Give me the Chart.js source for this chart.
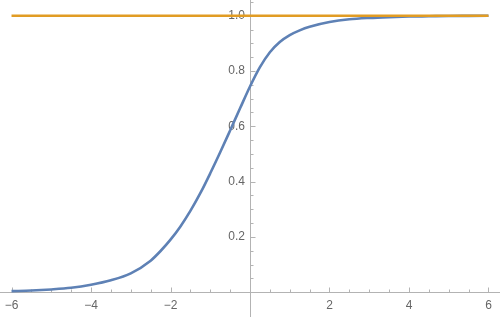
<!DOCTYPE html>
<html>
<head>
<meta charset="utf-8">
<script src="https://cdn.jsdelivr.net/npm/chart.js@4"></script>
<style>
  html, body { margin: 0; padding: 0; background: #fff; }
  #wrap { width: 500px; height: 317px; }
</style>
</head>
<body>
<div id="wrap"><canvas id="curveChart"></canvas></div>
<script>
// valores
const xValues = [-6, -5.5, -5, -4.5, -4, -3.5, -3, -2.5, -2.25, -2, -1.75, -1.5, -1.25, -1, -0.75, -0.5, -0.25,
  0, 0.25, 0.5, 0.75, 1, 1.25, 1.5, 2, 2.5, 3, 3.5, 4, 4.5, 5, 5.5, 6];
const curveValues = [0.004, 0.006, 0.01, 0.016, 0.027, 0.043, 0.068, 0.114, 0.149, 0.19, 0.238, 0.294, 0.358, 0.43, 0.506, 0.585, 0.665,
  0.744, 0.814, 0.868, 0.905, 0.93, 0.947, 0.96, 0.977, 0.987, 0.992, 0.995, 0.997, 0.998, 0.999, 0.9995, 1.0];
const flatX = [-6, 6];
const flatValues = [1, 1];

const xTicks = [-6, -4, -2, 2, 4, 6];
const yTicks = [0.2, 0.4, 0.6, 0.8, 1.0];
const xMinor = [];
for (let v = -6; v <= 6; v += 0.5) { if (v !== 0) xMinor.push(v); }
const yMinor = [];
for (let i = 1; i <= 21; i++) yMinor.push(i * 0.05);

const axisColor = '#b3b3b3';
const labelColor = '#666666';

// desenha as marcas pequenas dos eixos para dentro, como no original
const tickPlugin = {
  id: 'innerTicks',
  beforeDatasetsDraw(chart) {
    const ctx = chart.ctx;
    const xs = chart.scales.x;
    const ys = chart.scales.y;
    const x0 = Math.round(xs.getPixelForValue(0)) + 0.5;
    const y0 = Math.round(ys.getPixelForValue(0)) + 0.5;
    ctx.save();
    ctx.strokeStyle = axisColor;
    ctx.lineWidth = 1;
    ctx.beginPath();
    xMinor.forEach(v => {
      const px = Math.round(xs.getPixelForValue(v)) + 0.5;
      const len = xTicks.includes(v) ? 5 : 3;
      ctx.moveTo(px, y0);
      ctx.lineTo(px, y0 - len);
    });
    yMinor.forEach(v => {
      const py = Math.round(ys.getPixelForValue(v)) + 0.5;
      const major = Math.abs(Math.round(v * 5) - v * 5) < 1e-6;
      const len = major ? 5 : 3;
      ctx.moveTo(x0, py);
      ctx.lineTo(x0 + len, py);
    });
    ctx.stroke();
    ctx.restore();
  }
};

function noPadding(scale) {
  scale.paddingTop = 0;
  scale.paddingBottom = 0;
  scale.paddingLeft = 0;
  scale.paddingRight = 0;
}

const ctx = document.getElementById('curveChart').getContext('2d');
const chart = new Chart(ctx, {
  type: 'line',
  data: {
    datasets: [
      {
        label: 'flat',
        data: flatX.map((x, i) => ({ x: x, y: flatValues[i] })),
        borderColor: '#E19C24',
        borderWidth: 2.6,
        pointRadius: 0,
        fill: false,
      },
      {
        label: 'curve',
        data: xValues.map((x, i) => ({ x: x, y: curveValues[i] })),
        borderColor: '#5E81B5',
        borderWidth: 2.6,
        pointRadius: 0,
        fill: false,
        cubicInterpolationMode: 'monotone',
      },
    ]
  },
  options: {
    responsive: true,
    maintainAspectRatio: false,
    animation: false,
    layout: { padding: 0 },
    plugins: { legend: { display: false }, tooltip: { enabled: false } },
    scales: {
      x: {
        type: 'linear',
        min: -6.29,
        max: 6.29,
        position: { y: 0 },
        afterBuildTicks: (scale) => { scale.ticks = xTicks.map(v => ({ value: v })); },
        afterFit: noPadding,
        grid: { drawOnChartArea: false, drawTicks: false },
        border: { color: axisColor, width: 1 },
        ticks: {
          padding: 6,
          color: labelColor,
          font: { family: 'Liberation Sans, Arial, sans-serif', size: 12 },
          maxRotation: 0,
          autoSkip: false,
          callback: (v) => String(v).replace('-', '\u2212'),
        }
      },
      y: {
        type: 'linear',
        min: -0.0897,
        max: 1.0568,
        position: 'center',
        afterBuildTicks: (scale) => { scale.ticks = yTicks.map(v => ({ value: v })); },
        afterFit: noPadding,
        grid: { drawOnChartArea: false, drawTicks: false },
        border: { color: axisColor, width: 1 },
        ticks: {
          padding: 5,
          color: labelColor,
          font: { family: 'Liberation Sans, Arial, sans-serif', size: 12 },
          autoSkip: false,
          callback: (v) => Number(v).toFixed(1),
        }
      }
    }
  },
  plugins: [tickPlugin]
});
</script>
</body>
</html>
